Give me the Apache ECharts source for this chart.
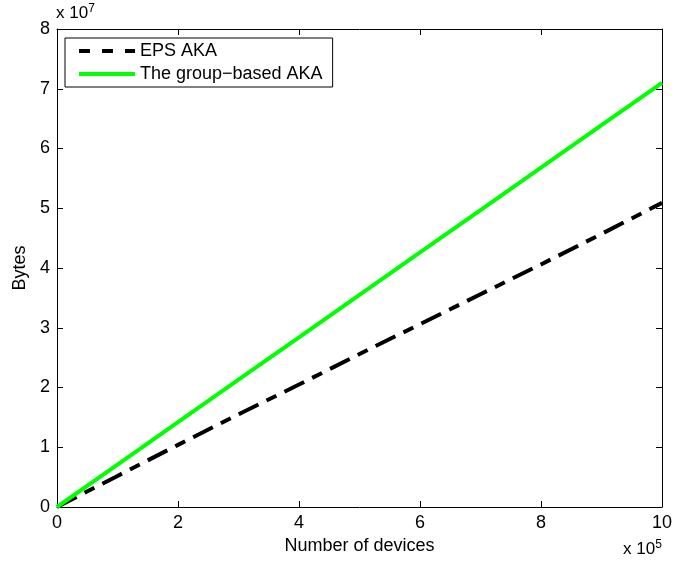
<!DOCTYPE html>
<html>
<head>
<meta charset="utf-8">
<script src="https://cdn.jsdelivr.net/npm/echarts@6/dist/echarts.min.js"></script>
<style>
  html, body { margin: 0; padding: 0; background: #fff; }
  #main { width: 675px; height: 570px; }
</style>
</head>
<body>
<div id="main"></div>
<script>
// number of devices, in units of 10^5
const devices = [0, 1, 2, 3, 4, 5, 6, 7, 8, 9, 10];
// bytes, in units of 10^7
const epsAka = [0, 0.52, 1.04, 1.55, 2.05, 2.56, 3.06, 3.56, 4.06, 4.57, 5.09];
const groupAka = [0, 0.71, 1.42, 2.13, 2.84, 3.55, 4.26, 4.97, 5.68, 6.39, 7.1];
const seriesNames = ['EPS AKA', 'The group\u2212based AKA'];

const font = 'Liberation Sans, Arial, Helvetica, sans-serif';
const chart = echarts.init(document.getElementById('main'));

const pairs = (ys) => devices.map((x, i) => [x, ys[i]]);

const axisCommon = {
    type: 'value',
    min: 0,
    splitLine: { show: false },
    axisLine: { show: true, onZero: false, lineStyle: { color: '#000', width: 1 } },
    axisTick: { show: true, inside: true, length: 6, lineStyle: { color: '#000' } }
};
const labelStyle = { fontFamily: font, fontSize: 18, color: '#000' };

chart.setOption({
    animation: false,
    grid: { left: 57, right: 11, top: 29, bottom: 63, containLabel: false },
    legend: {
        left: 65, top: 38,
        orient: 'vertical',
        data: [
            { name: seriesNames[0], lineStyle: { width: 4, type: [11, 12] } },
            { name: seriesNames[1], lineStyle: { width: 4 } }
        ],
        backgroundColor: '#fff',
        borderColor: '#000',
        borderWidth: 1,
        borderRadius: 0,
        padding: [4, 10, 4, 12],
        itemGap: 5,
        itemWidth: 56,
        itemHeight: 14,
        itemStyle: { opacity: 0 },
        textStyle: { fontFamily: font, fontSize: 18, color: '#000' }
    },
    xAxis: [
        Object.assign({}, axisCommon, {
            position: 'bottom', max: 10, interval: 2,
            name: 'Number of devices', nameLocation: 'middle', nameGap: 29,
            nameTextStyle: labelStyle,
            axisLabel: Object.assign({ margin: 7 }, labelStyle)
        }),
        Object.assign({}, axisCommon, {
            position: 'top', max: 10, interval: 2,
            axisLabel: { show: false }
        })
    ],
    yAxis: [
        Object.assign({}, axisCommon, {
            position: 'left', max: 8, interval: 1,
            name: 'Bytes', nameLocation: 'middle', nameGap: 28,
            nameTextStyle: labelStyle,
            axisLabel: Object.assign({ margin: 7 }, labelStyle)
        }),
        Object.assign({}, axisCommon, {
            position: 'right', max: 8, interval: 1,
            axisLabel: { show: false }
        })
    ],
    series: [
        {
            name: seriesNames[0], type: 'line', data: pairs(epsAka),
            showSymbol: false, symbol: 'none', z: 3,
            itemStyle: { color: '#000' },
            lineStyle: { color: '#000', width: 4, type: [22, 9, 11, 9] }
        },
        {
            name: seriesNames[1], type: 'line', data: pairs(groupAka),
            showSymbol: false, symbol: 'none', z: 4,
            itemStyle: { color: '#00ff00' },
            lineStyle: { color: '#00ff00', width: 4 }
        }
    ],
    graphic: [
        {
            type: 'text', left: 56, top: 3,
            style: { text: 'x 10{s|7}', font: '17px ' + font, fill: '#000',
                rich: { s: { fontSize: 12, verticalAlign: 'top', padding: [0, 0, 8, 0] } } }
        },
        {
            type: 'text', left: 623, top: 539,
            style: { text: 'x 10{s|5}', font: '17px ' + font, fill: '#000',
                rich: { s: { fontSize: 12, verticalAlign: 'top', padding: [0, 0, 8, 0] } } }
        }
    ]
});
</script>
</body>
</html>
